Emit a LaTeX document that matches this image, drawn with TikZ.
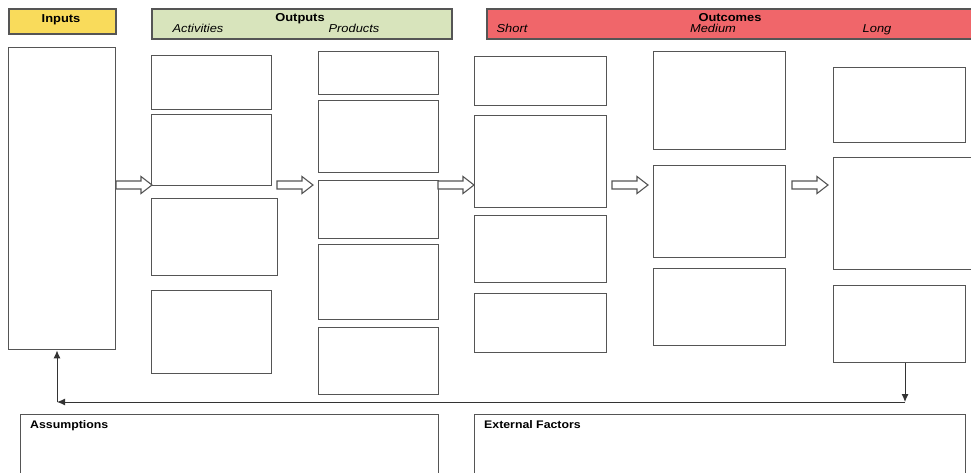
\documentclass[tikz,border=0pt]{standalone}
\usepackage{fontspec}
\usepackage{graphicx}
\setmainfont{Liberation Sans}
\usetikzlibrary{arrows.meta}
\definecolor{lineg}{HTML}{555555}
\definecolor{hyellow}{HTML}{F9DB5B}
\definecolor{hgreen}{HTML}{D8E4BC}
\definecolor{hred}{HTML}{F0666A}
\newcommand\wide[1]{\scalebox{1.12}[1]{#1}}
\tikzset{
  box/.style={draw=lineg, line width=1.4pt, fill=white, inner sep=0pt, anchor=north west},
  hdr/.style={draw=lineg, line width=1.6pt, inner sep=0pt, anchor=north west},
  htitle/.style={font=\fontsize{11.5}{12}\selectfont\bfseries, inner sep=0pt, anchor=base},
  hsub/.style={font=\fontsize{11.5}{12}\selectfont\itshape, inner sep=0pt, anchor=base},
  btitle/.style={font=\fontsize{11}{12}\selectfont\bfseries, inner sep=0pt, anchor=base west},
  barr/.style={draw=lineg, line width=1.1pt, fill=white},
  fb/.style={draw=black!80, line width=1pt, -{Latex[length=8pt,width=7pt]}}
}
\newcommand\bx[5]{\node[box, minimum width=#4pt, minimum height=#5pt] (#1) at (#2,#3) {};}
\newcommand\barrow[3]{\draw[barr] (#1,#3-4) -- (#2-11,#3-4) -- (#2-11,#3-8.5) -- (#2,#3) -- (#2-11,#3+8.5) -- (#2-11,#3+4) -- (#1,#3+4) -- cycle;}
\begin{document}
\begin{tikzpicture}[x=1pt,y=-1pt]
\useasboundingbox (0,0) rectangle (971,472);
\clip (0,0) rectangle (971,472);
% headers
\node[hdr, fill=hyellow, minimum width=107pt, minimum height=25pt] (hin) at (8,8) {};
\node[hdr, fill=hgreen, minimum width=300pt, minimum height=30pt] (hout) at (151,8) {};
\node[hdr, fill=hred, minimum width=500pt, minimum height=30pt] (hoc) at (486,8) {};
\node[htitle] (tin) at (61,22) {\wide{Inputs}};
\node[htitle] (tout) at (300,21) {\wide{Outputs}};
\node[hsub] (tact) at (198,32) {\wide{Activities}};
\node[hsub] (tprod) at (354,32) {\wide{Products}};
\node[htitle] (toc) at (730,21) {\wide{Outcomes}};
\node[hsub] (tshort) at (512,32) {\wide{Short}};
\node[hsub] (tmed) at (713,32) {\wide{Medium}};
\node[hsub] (tlong) at (877,32) {\wide{Long}};
% inputs
\bx{inputs}{8}{47}{107}{302}
% activities
\bx{a1}{151}{55}{120}{54}
\bx{a2}{151}{114}{120}{71}
\bx{a3}{151}{198}{126}{77}
\bx{a4}{151}{290}{120}{83}
% products
\bx{p1}{318}{51}{120}{43}
\bx{p2}{318}{100}{120}{72}
\bx{p3}{318}{180}{120}{58}
\bx{p4}{318}{244}{120}{75}
\bx{p5}{318}{327}{120}{67}
% short
\bx{s1}{474}{56}{132}{49}
\bx{s2}{474}{115}{132}{92}
\bx{s3}{474}{215}{132}{67}
\bx{s4}{474}{293}{132}{59}
% medium
\bx{m1}{653}{51}{132}{98}
\bx{m2}{653}{165}{132}{92}
\bx{m3}{653}{268}{132}{77}
% long
\bx{l1}{833}{67}{132}{75}
\bx{l2}{833}{157}{150}{112}
\bx{l3}{833}{285}{132}{77}
% bottom boxes
\bx{assump}{20}{414}{418}{80}
\bx{ext}{474}{414}{491}{80}
\node[btitle] (tass) at (30,428) {\wide{Assumptions}};
\node[btitle] (text) at (484,428) {\wide{External Factors}};
% block arrows
\barrow{116}{152}{185}
\barrow{277}{313}{185}
\barrow{438}{474}{185}
\barrow{612}{648}{185}
\barrow{792}{828}{185}
% feedback
\coordinate (fbR) at (905,402);
\coordinate (fbL) at (57,402);
\draw[fb] (l3.south -| fbR) -- (fbR);
\draw[fb] (fbR) -- (fbL);
\draw[fb] (fbL) -- (inputs.south -| fbL);
\end{tikzpicture}
\end{document}
